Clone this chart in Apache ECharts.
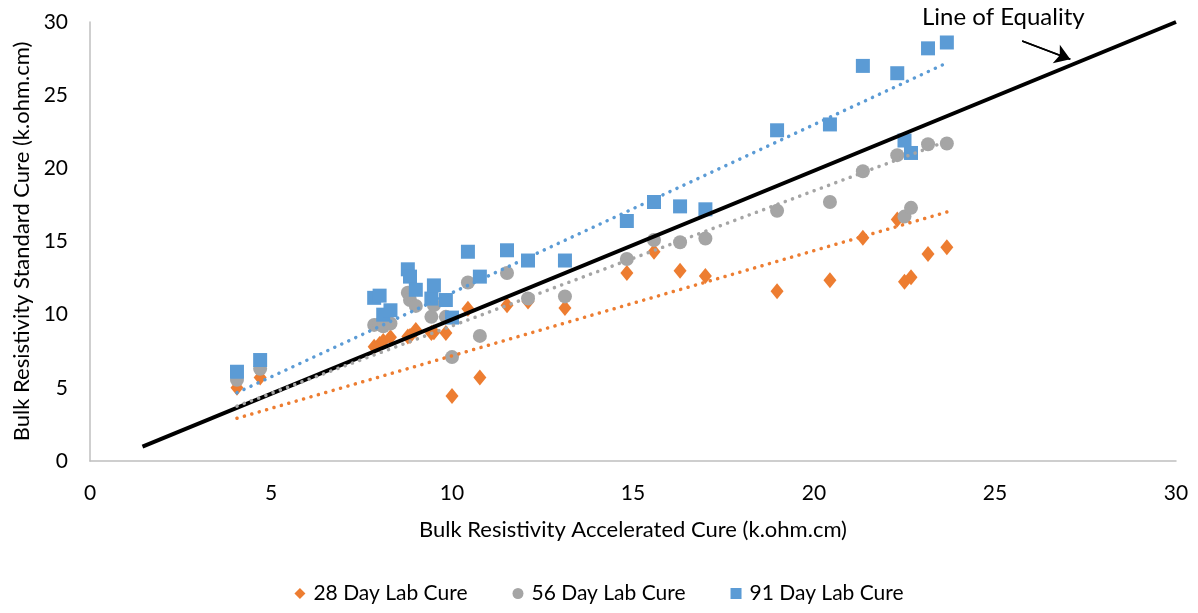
<!DOCTYPE html>
<html>
<head>
<meta charset="utf-8">
<script src="https://cdn.jsdelivr.net/npm/echarts@6/dist/echarts.min.js"></script>
<style>html,body{margin:0;padding:0;background:#fff}#c{width:1198px;height:613px}</style>
</head>
<body>
<div id="c"></div>
<script>
const accelCure = [4.06, 4.7, 7.85, 8.0, 8.1, 8.3, 8.78, 8.84, 9.0, 9.43, 9.5, 9.83, 10.0, 10.44, 10.77, 11.52, 12.1, 13.12, 14.83, 15.58, 16.3, 17.0, 18.98, 20.44, 21.35, 22.3, 22.5, 22.68, 23.15, 23.67];
const day28 = [5.0, 5.7, 7.8, 8.0, 8.2, 8.45, 8.5, 8.55, 8.95, 8.75, 8.8, 8.75, 4.45, 10.4, 5.7, 10.65, 10.9, 10.45, 12.85, 14.3, 13.0, 12.65, 11.6, 12.35, 15.25, 16.5, 12.25, 12.55, 14.15, 14.6];
const day56 = [5.55, 6.3, 9.3, 9.35, 9.2, 9.4, 11.5, 11.0, 10.6, 9.85, 10.65, 9.85, 7.1, 12.2, 8.55, 12.85, 11.1, 11.25, 13.8, 15.1, 14.95, 15.2, 17.1, 17.7, 19.8, 20.9, 16.7, 17.3, 21.65, 21.7];
const day91 = [6.1, 6.9, 11.15, 11.3, 10.0, 10.3, 13.1, 12.6, 11.7, 11.1, 12.0, 11.0, 9.8, 14.3, 12.6, 14.4, 13.7, 13.7, 16.4, 17.7, 17.4, 17.2, 22.6, 23.0, 27.0, 26.5, 21.9, 21.05, 28.2, 28.6];
const seriesNames = ['28 Day Lab Cure', '56 Day Lab Cure', '91 Day Lab Cure'];
const equalityX = [1.45, 30];
const equalityY = [0.98, 30];
const arrowFrom = [25.75, 28.7];
const arrowTo = [27.08, 27.45];

const FONT = 'Lato';
const colors = ['#ED7D31', '#A5A5A5', '#5B9BD5'];
const symbols = ['diamond', 'circle', 'rect'];
const symbolSizes = [[13, 16], 14, 14];

function pairs(xs, ys) { return xs.map((x, i) => [x, ys[i]]); }
// linear trendline with intercept fixed at zero (least squares through the origin)
function trend(xs, ys) {
  let sxx = 0, sxy = 0;
  for (let i = 0; i < xs.length; i++) { sxx += xs[i] * xs[i]; sxy += xs[i] * ys[i]; }
  const b = sxy / sxx;
  const x0 = Math.min(...xs), x1 = Math.max(...xs);
  return [[x0, b * x0], [x1, b * x1]];
}

const all = [day28, day56, day91];
const series = [];
all.forEach((ys, i) => {
  series.push({
    name: seriesNames[i], type: 'scatter', data: pairs(accelCure, ys),
    symbol: symbols[i], symbolSize: symbolSizes[i],
    itemStyle: { color: colors[i], opacity: 1 }, z: 3 + i
  });
});
all.forEach((ys, i) => {
  series.push({
    name: 'trend' + i, type: 'line', data: trend(accelCure, ys), symbol: 'none',
    lineStyle: { color: colors[i], width: 3.5, type: [0.1, 7.6], cap: 'round' },
    z: 10, silent: true
  });
});
series.push({
  name: 'Line of Equality', type: 'line', data: pairs(equalityX, equalityY), symbol: 'none',
  lineStyle: { color: '#000', width: 4 }, z: 8, silent: true
});
series.push({
  name: 'arrow', type: 'line', data: [arrowFrom, arrowTo], symbol: 'none', z: 12, silent: true,
  lineStyle: { color: '#000', width: 1.5 },
  markLine: {
    silent: true, symbol: ['none', 'arrow'], symbolSize: 15,
    lineStyle: { color: '#000', width: 1.5, type: 'solid', opacity: 1 },
    itemStyle: { color: '#000' },
    label: { show: false }, emphasis: { disabled: true },
    data: [[{ coord: arrowFrom }, { coord: arrowTo }]]
  }
});

const chart = echarts.init(document.getElementById('c'), null, { renderer: 'canvas' });
chart.setOption({
  animation: false,
  textStyle: { fontFamily: FONT },
  grid: { left: 90, right: 22, top: 22, bottom: 152 },
  legend: {
    data: seriesNames.map((n, i) => ({ name: n, icon: symbols[i] })),
    bottom: 4, left: 'center', itemWidth: 11, itemHeight: 11, itemGap: 45,
    textStyle: { fontFamily: FONT, fontSize: 21, color: '#000', padding: [0, 0, 0, 3] }
  },
  xAxis: {
    type: 'value', min: 0, max: 30, interval: 5,
    name: 'Bulk Resistivity Accelerated Cure (k.ohm.cm)', nameLocation: 'middle', nameGap: 58,
    nameTextStyle: { fontFamily: FONT, fontSize: 22, color: '#000' },
    axisLine: { show: true, lineStyle: { color: '#BFBFBF', width: 1.5 } },
    axisTick: { show: false }, splitLine: { show: false },
    axisLabel: { fontFamily: FONT, fontSize: 21, color: '#000', margin: 22 }
  },
  yAxis: {
    type: 'value', min: 0, max: 30, interval: 5,
    name: 'Bulk Resistivity Standard Cure (k.ohm.cm)', nameLocation: 'middle', nameGap: 57,
    nameTextStyle: { fontFamily: FONT, fontSize: 22, color: '#000' },
    axisLine: { show: true, lineStyle: { color: '#BFBFBF', width: 1.5 } },
    axisTick: { show: false }, splitLine: { show: false },
    axisLabel: { fontFamily: FONT, fontSize: 21, color: '#000', margin: 22 }
  },
  graphic: [{
    type: 'text', left: 922, top: 5,
    style: { text: 'Line of Equality', font: '24px ' + FONT, fill: '#000' }
  }],
  series: series
});
</script>
</body>
</html>
